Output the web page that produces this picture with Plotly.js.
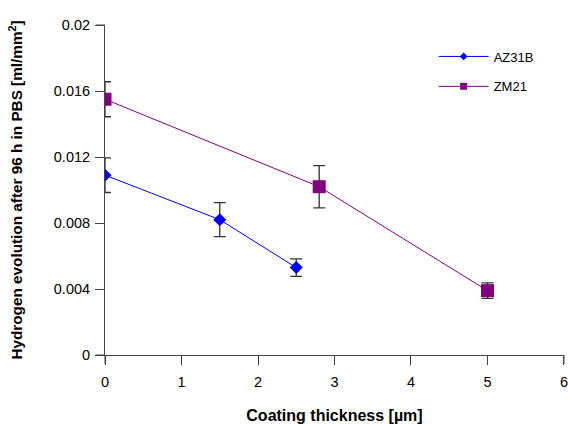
<!DOCTYPE html>
<html>
<head>
<meta charset="utf-8">
<script src="https://cdn.plot.ly/plotly-3.0.1.min.js"></script>
<style>
  html, body { margin: 0; padding: 0; background: #fff; }
  #chart { width: 568px; height: 424px; }
</style>
</head>
<body>
<div id="chart"></div>
<script>
// Hydrogen evolution vs. coating thickness for two Mg alloys
const azThickness = [0, 1.5, 2.5];
const azHydrogen  = [0.0109, 0.0082, 0.0053];
const azError     = [0.00105, 0.00103, 0.00053];

const zmThickness = [0, 2.8, 5];
const zmHydrogen  = [0.0155, 0.0102, 0.0039];
const zmError     = [0.00106, 0.00128, 0.00047];

const xTicks = [0, 1, 2, 3, 4, 5, 6];
const yTicks = [0, 0.004, 0.008, 0.012, 0.016, 0.02];
const yTickText = ['0', '0.004', '0.008', '0.012', '0.016', '0.02'];

const AZ_COLOR = '#0000ff';
const ZM_COLOR = '#800080';
const AXIS_COLOR = '#444444';
const FONT = 'Liberation Sans, Arial, sans-serif';

const X_RANGE = [0, 6.0001];
const Y_RANGE = [0, 0.0200001];

const errStyle = { type: 'data', visible: true, color: '#333333', thickness: 1.3, width: 6 };

const traces = [
  {
    x: azThickness, y: azHydrogen, type: 'scatter', mode: 'lines+markers',
    name: 'AZ31B', showlegend: false,
    line: { color: AZ_COLOR, width: 1 },
    marker: { symbol: 'diamond', size: 10, color: AZ_COLOR },
    error_y: Object.assign({ array: azError }, errStyle)
  },
  {
    x: zmThickness, y: zmHydrogen, type: 'scatter', mode: 'lines+markers',
    name: 'ZM21', showlegend: false,
    line: { color: ZM_COLOR, width: 1 },
    marker: { symbol: 'square', size: 13, color: ZM_COLOR },
    error_y: Object.assign({ array: zmError }, errStyle)
  },
  // legend entries with smaller symbols
  {
    x: [null], y: [null], type: 'scatter', mode: 'lines+markers',
    name: 'AZ31B', legendgroup: 'a',
    line: { color: AZ_COLOR, width: 1 },
    marker: { symbol: 'diamond', size: 6, color: AZ_COLOR }
  },
  {
    x: [null], y: [null], type: 'scatter', mode: 'lines+markers',
    name: 'ZM21', legendgroup: 'b',
    line: { color: ZM_COLOR, width: 1 },
    marker: { symbol: 'square', size: 7, color: ZM_COLOR }
  }
];

const axisExt = (o) => Object.assign({ type: 'line', layer: 'above', line: { color: AXIS_COLOR, width: 1 } }, o);

const layout = {
  width: 568, height: 424,
  margin: { l: 105, r: 4, t: 25, b: 69, pad: 0 },
  paper_bgcolor: '#ffffff', plot_bgcolor: '#ffffff',
  font: { family: FONT, size: 14, color: '#000' },
  showlegend: true,
  legend: {
    x: 0.716, y: 0.95, xanchor: 'left', yanchor: 'top',
    bgcolor: 'rgba(0,0,0,0)', borderwidth: 0, itemwidth: 50,
    font: { family: FONT, size: 13, color: '#000' },
    traceorder: 'grouped', tracegroupgap: 10
  },
  xaxis: {
    range: X_RANGE, tickvals: xTicks, ticktext: xTicks.map(String),
    ticks: 'outside', ticklen: 9, tickwidth: 1, tickcolor: AXIS_COLOR,
    ticklabelstandoff: 5, ticklabeloverflow: 'allow',
    showline: true, linecolor: AXIS_COLOR, linewidth: 1,
    showgrid: false, zeroline: false,
    tickfont: { family: FONT, size: 14.5 },
    title: { text: '<b>Coating thickness [µm]</b>', font: { family: FONT, size: 16 }, standoff: 20 }
  },
  yaxis: {
    range: Y_RANGE, tickvals: yTicks, ticktext: yTickText,
    ticks: 'outside', ticklen: 9, tickwidth: 1, tickcolor: AXIS_COLOR,
    ticklabelstandoff: 2, ticklabeloverflow: 'allow',
    showline: true, linecolor: AXIS_COLOR, linewidth: 1,
    showgrid: false, zeroline: false,
    tickfont: { family: FONT, size: 14.5 },
    title: { text: '<b>Hydrogen evolution after 96 h in PBS [ml/mm<sup>2</sup>]</b>', font: { family: FONT, size: 15.3 }, standoff: 27 }
  },
  xaxis2: {
    overlaying: 'x', side: 'top', anchor: 'y', range: X_RANGE,
    tickvals: xTicks, showticklabels: false,
    ticks: 'inside', ticklen: 8, tickwidth: 1, tickcolor: AXIS_COLOR,
    showline: true, linecolor: AXIS_COLOR, linewidth: 1,
    showgrid: false, zeroline: false
  },
  yaxis2: {
    overlaying: 'y', side: 'right', anchor: 'x', range: Y_RANGE,
    tickvals: yTicks, showticklabels: false,
    ticks: 'inside', ticklen: 8, tickwidth: 1, tickcolor: AXIS_COLOR,
    showline: true, linecolor: AXIS_COLOR, linewidth: 1,
    showgrid: false, zeroline: false
  },
  shapes: [
    // short overhangs of the frame lines past the corners
    axisExt({ xref: 'paper', yref: 'paper', xsizemode: 'pixel', xanchor: 0, x0: -9, x1: 0, y0: 0, y1: 0 }),
    axisExt({ xref: 'paper', yref: 'paper', xsizemode: 'pixel', xanchor: 0, x0: -9, x1: 0, y0: 1, y1: 1 }),
    axisExt({ xref: 'paper', yref: 'paper', ysizemode: 'pixel', yanchor: 0, y0: -9, y1: 0, x0: 0, x1: 0 }),
    axisExt({ xref: 'paper', yref: 'paper', ysizemode: 'pixel', yanchor: 0, y0: -9, y1: 0, x0: 1, x1: 1 })
  ]
};

Plotly.newPlot('chart', traces, layout, { displayModeBar: false, staticPlot: true });
</script>
</body>
</html>
